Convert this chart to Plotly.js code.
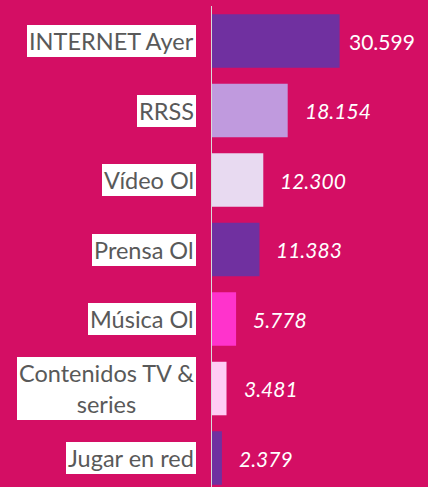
<!DOCTYPE html>
<html>
<head>
<meta charset="utf-8">
<script src="https://cdn.plot.ly/plotly-3.0.1.min.js"></script>
<style>html,body{margin:0;padding:0;background:#D40E64;}#chart{width:428px;height:487px;}</style>
</head>
<body>
<div id="chart"></div>
<script>
const categories = ["INTERNET Ayer", "RRSS", "Vídeo Ol", "Prensa Ol", "Música Ol", "Contenidos TV & series", "Jugar en red"];
const labelText = ["INTERNET Ayer", "RRSS", "Vídeo Ol", "Prensa Ol", "Música Ol", "Contenidos TV &<br>series", "Jugar en red"];
const values = [30599, 18154, 12300, 11383, 5778, 3481, 2379];
const barColors = ["#7030A0", "#C09ADE", "#E8DAF1", "#7030A0", "#FF33CC", "#FFCCF5", "#7030A0"];

function fmt(v) {
  return String(v).replace(/\B(?=(\d{3})+(?!\d))/g, ".");
}

const trace = {
  type: "bar",
  orientation: "h",
  y: categories,
  x: values,
  marker: {color: barColors, line: {width: 0}},
  hoverinfo: "skip"
};

const annotations = [];
categories.forEach((c, i) => {
  annotations.push({
    xref: "paper", x: 0, xanchor: "right", xshift: -16,
    yref: "y", y: c, yanchor: "middle",
    text: labelText[i], showarrow: false, align: "center",
    bgcolor: "#FFFFFF", borderpad: 2, borderwidth: 0,
    font: {family: "Lato, 'Open Sans', sans-serif", size: 23.5, color: "#595959"}
  });
  annotations.push({
    xref: "x", x: values[i], xanchor: "left", xshift: i === 0 ? 7 : 15,
    yref: "y", y: c, yanchor: "middle",
    text: fmt(values[i]), showarrow: false,
    font: {family: "Lato, 'Open Sans', sans-serif", size: 21, color: "#FFFFFF", style: i === 0 ? "normal" : "italic"}
  });
});

const layout = {
  width: 428, height: 487,
  paper_bgcolor: "#D40E64", plot_bgcolor: "#D40E64",
  margin: {l: 212, r: 0, t: 6, b: 0, pad: 0},
  bargap: 0.23,
  showlegend: false,
  xaxis: {range: [0, 51800], visible: false, fixedrange: true},
  yaxis: {
    type: "category", range: [6.417, -0.504],
    showticklabels: false, ticks: "", showgrid: false, zeroline: false,
    showline: true, linecolor: "#D9D9D9", linewidth: 1.5, fixedrange: true
  },
  annotations: annotations
};

Plotly.newPlot("chart", [trace], layout, {displayModeBar: false, staticPlot: true});
</script>
</body>
</html>
